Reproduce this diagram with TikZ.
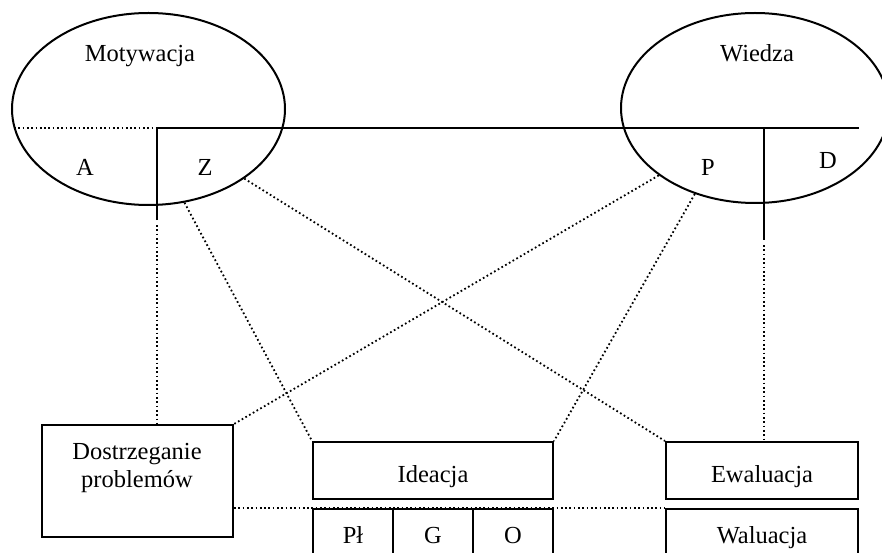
\documentclass[tikz,border=0pt]{standalone}
\usepackage{fontspec}
\setmainfont{Liberation Serif}
\usetikzlibrary{shapes.geometric}
\begin{document}
\begin{tikzpicture}[x=1pt,y=-1pt,
  solidline/.style={line width=2pt},
  dotline/.style={line width=1.8pt, dash pattern=on 1.7pt off 2.6pt},
  oval/.style={ellipse, draw, line width=2pt, inner sep=0pt},
  cell/.style={rectangle, draw, line width=2pt, inner sep=0pt},
  lbl/.style={font=\fontsize{24.5}{28}\selectfont, inner sep=0pt, anchor=base}]
\useasboundingbox (0,0) rectangle (882,553);
\clip (0,0) rectangle (882,553);
\fill[white] (0,0) rectangle (882,553);

% the two ovals
\node[oval, minimum width=273pt, minimum height=192pt] (mot) at (148.5,109) {};
\node[oval, minimum width=268pt, minimum height=190pt] (wie) at (755,108) {};
\node[lbl] (motl) at (140,62) {Motywacja};
\node[lbl] (wiel) at (757,62) {Wiedza};
\node[lbl] (al) at (85,176) {A};
\node[lbl] (zl) at (205,176) {Z};
\node[lbl] (pl0) at (708,176) {P};
\node[lbl] (dl) at (828,169) {D};

% dividing lines
\coordinate (adiv) at (14,128);
\coordinate (corner) at (157,128);
\coordinate (lend) at (859,128);
\coordinate (zstem) at (157,220);
\coordinate (pdtop) at (764,128);
\coordinate (dstem) at (764,240);
\draw[dotline] (adiv) -- (corner);
\draw[solidline] (zstem) -- (corner) -- (lend);
\draw[solidline] (pdtop) -- (dstem);

% boxes
\node[cell, minimum width=191pt, minimum height=112pt] (dp) at (137.5,481) {};
\node[cell, minimum width=240pt, minimum height=57pt] (ide) at (433,470.5) {};
\node[cell, minimum width=192pt, minimum height=57pt] (ewa) at (762,470.5) {};
\node[cell, minimum width=80pt, minimum height=70pt] (plc) at (353,544) {};
\node[cell, minimum width=80pt, minimum height=70pt] (gc) at (433,544) {};
\node[cell, minimum width=80pt, minimum height=70pt] (oc) at (513,544) {};
\node[cell, minimum width=192pt, minimum height=70pt] (wal) at (762,544) {};

\node[lbl] (dpl1) at (137,459) {Dostrzeganie};
\node[lbl] (dpl2) at (137,487) {problemów};
\node[lbl] (idel) at (433,482) {Ideacja};
\node[lbl] (ewal) at (762,482) {Ewaluacja};
\node[lbl] (pll) at (353,543) {Pł};
\node[lbl] (gl) at (433,543) {G};
\node[lbl] (ol) at (513,543) {O};
\node[lbl] (wall) at (762,543) {Waluacja};

% dotted connectors
\draw[dotline, shorten <=5pt] (zstem) -- (zstem |- dp.north);
\draw[dotline, shorten <=5pt] (dstem) -- (dstem |- ewa.north);
\draw[dotline] (mot.-69) -- (ide.north west);
\draw[dotline] (mot.-36) -- (ewa.north west);
\draw[dotline] (wie.-145) -- (dp.north east);
\draw[dotline] (wie.-125) -- (ide.north east);
\draw[dotline] (dp.east |- wal.north) -- (wal.north west);
\end{tikzpicture}
\end{document}
